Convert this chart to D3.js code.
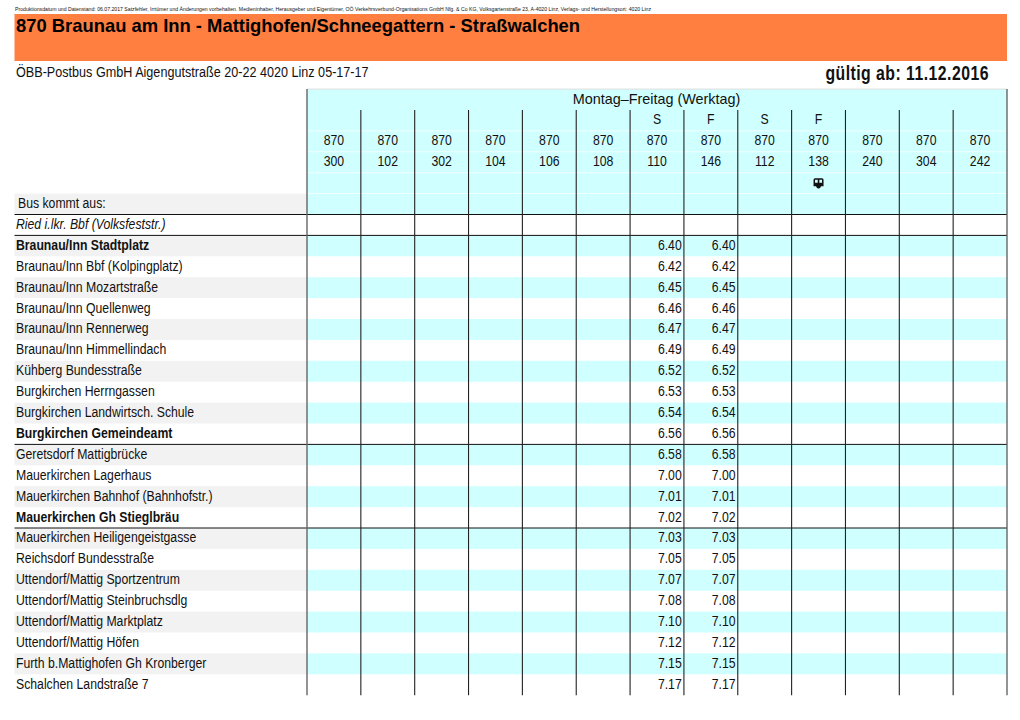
<!DOCTYPE html>
<html>
<head>
<meta charset="utf-8">
<script src="https://cdn.jsdelivr.net/npm/d3@7"></script>
<style>
  html, body { margin: 0; background: #fff; }
  svg { display: block; }
  text { fill: #111; font-family: "Liberation Sans", sans-serif; }
</style>
</head>
<body>
<div id="chart"></div>
<script>
const imprint = 'Produktionsdatum und Datenstand: 06.07.2017 Satzfehler, Irrtümer und Änderungen vorbehalten. Medieninhaber, Herausgeber und Eigentümer, OÖ Verkehrsverbund-Organisations GmbH Nfg. & Co KG, Volksgartenstraße 23, A-4020 Linz, Verlags- und Herstellungsort: 4020 Linz';
const title = '870 Braunau am Inn - Mattighofen/Schneegattern - Straßwalchen';
const operator = 'ÖBB-Postbus GmbH Aigengutstraße 20-22 4020 Linz 05-17-17';
const validFrom = 'gültig ab: 11.12.2016';
const dayType = 'Montag–Freitag (Werktag)';

const lines = ['870', '870', '870', '870', '870', '870', '870', '870', '870', '870', '870', '870', '870'];
const courses = ['300', '102', '302', '104', '106', '108', '110', '146', '112', '138', '240', '304', '242'];
const notes = ['', '', '', '', '', '', 'S', 'F', 'S', 'F', '', '', ''];
const busIconCourses = ['138'];
const timedCourses = ['110', '146'];

const stations = [
  'Ried i.lkr. Bbf (Volksfeststr.)', 'Braunau/Inn Stadtplatz', 'Braunau/Inn Bbf (Kolpingplatz)',
  'Braunau/Inn Mozartstraße', 'Braunau/Inn Quellenweg', 'Braunau/Inn Rennerweg',
  'Braunau/Inn Himmellindach', 'Kühberg Bundesstraße', 'Burgkirchen Herrngassen',
  'Burgkirchen Landwirtsch. Schule', 'Burgkirchen Gemeindeamt', 'Geretsdorf Mattigbrücke',
  'Mauerkirchen Lagerhaus', 'Mauerkirchen Bahnhof (Bahnhofstr.)', 'Mauerkirchen Gh Stieglbräu',
  'Mauerkirchen Heiligengeistgasse', 'Reichsdorf Bundesstraße', 'Uttendorf/Mattig Sportzentrum',
  'Uttendorf/Mattig Steinbruchsdlg', 'Uttendorf/Mattig Marktplatz', 'Uttendorf/Mattig Höfen',
  'Furth b.Mattighofen Gh Kronberger', 'Schalchen Landstraße 7'
];
const times = ['', '6.40', '6.42', '6.45', '6.46', '6.47', '6.49', '6.52', '6.53', '6.54', '6.56',
  '6.58', '7.00', '7.01', '7.02', '7.03', '7.05', '7.07', '7.08', '7.10', '7.12', '7.15', '7.17'];
const boldStations = ['Braunau/Inn Stadtplatz', 'Burgkirchen Gemeindeamt', 'Mauerkirchen Gh Stieglbräu'];
const ruledBelow = ['Ried i.lkr. Bbf (Volksfeststr.)', 'Burgkirchen Gemeindeamt', 'Mauerkirchen Gh Stieglbräu'];

const headerRows = ['day', 'note', 'line', 'course', 'icon', 'from'];
const rows = headerRows.concat(stations);

const width = 1020,
      height = 720,
      left = 14.5,
      tableLeft = 307,
      tableRight = 1007,
      fontSize = 15.5,
      narrow = 0.79;

const x = d3.scaleBand().domain(courses).range([tableLeft, tableRight]);
const y = d3.scaleBand().domain(rows).range([89.1, 695.2]);

const svg = d3.select('#chart').append('svg')
  .attr('width', width)
  .attr('height', height);

// no condensed face is installed, so text gets squeezed sideways
const squeeze = (tx, ty, sx) => `translate(${tx},${ty}) scale(${sx},1)`;

// top of the page
svg.append('text')
  .attr('x', 15).attr('y', 10.5)
  .attr('font-size', 6.2)
  .attr('textLength', 636)
  .attr('lengthAdjust', 'spacingAndGlyphs')
  .text(imprint);

svg.append('rect')
  .attr('x', left).attr('y', 14)
  .attr('width', tableRight - left).attr('height', 47)
  .attr('fill', '#ff7f40');

svg.append('text')
  .attr('x', 16).attr('y', 32)
  .attr('font-size', 18.4).attr('font-weight', 'bold')
  .style('fill', '#000')
  .text(title);

svg.append('text')
  .attr('transform', squeeze(16, 76.5, 0.814))
  .attr('font-size', fontSize)
  .text(operator);

svg.append('text')
  .attr('transform', squeeze(989, 79.5, 0.79))
  .attr('text-anchor', 'end')
  .attr('font-size', 20).attr('font-weight', 'bold')
  .attr('letter-spacing', 0.6)
  .text(validFrom);

// row backgrounds
const isStriped = r => {
  const i = stations.indexOf(r);
  return i >= 0 && i % 2 === 1;
};

svg.append('g').selectAll('rect')
  .data(rows.filter(r => r === 'from' || isStriped(r)))
  .enter()
  .append('rect')
  .attr('x', left)
  .attr('y', d => y(d))
  .attr('width', tableLeft - left)
  .attr('height', y.bandwidth())
  .attr('fill', '#f2f2f2');

svg.append('g').selectAll('rect')
  .data(rows.filter(r => headerRows.includes(r) || isStriped(r)))
  .enter()
  .append('rect')
  .attr('x', tableLeft)
  .attr('y', d => y(d))
  .attr('width', tableRight - tableLeft)
  .attr('height', y.bandwidth())
  .attr('fill', '#d0ffff');

// faint white rules inside the header
svg.append('g').selectAll('line')
  .data(['line', 'course', 'icon', 'from'])
  .enter()
  .append('line')
  .attr('x1', tableLeft).attr('x2', tableRight)
  .attr('y1', d => y(d)).attr('y2', d => y(d))
  .attr('stroke', '#fff').attr('stroke-width', 0.6);

// rules
svg.append('line')
  .attr('x1', tableLeft).attr('x2', tableRight)
  .attr('y1', y('day')).attr('y2', y('day'))
  .attr('stroke', '#ddd').attr('stroke-width', 1);

svg.append('g').selectAll('line')
  .data(['from'].concat(ruledBelow))
  .enter()
  .append('line')
  .attr('x1', left).attr('x2', tableRight)
  .attr('y1', d => y(d) + y.bandwidth()).attr('y2', d => y(d) + y.bandwidth())
  .attr('stroke', '#111').attr('stroke-width', 1);

svg.append('g').selectAll('line')
  .data(courses.slice(1))
  .enter()
  .append('line')
  .attr('x1', d => x(d)).attr('x2', d => x(d))
  .attr('y1', y('note')).attr('y2', 695.2)
  .attr('stroke', '#222').attr('stroke-width', 1.1);

svg.append('g').selectAll('line')
  .data([tableLeft, tableRight])
  .enter()
  .append('line')
  .attr('x1', d => d).attr('x2', d => d)
  .attr('y1', y('day')).attr('y2', 695.2)
  .attr('stroke', '#666').attr('stroke-width', 1.4);

// header texts
const baseline = r => y(r) + y.bandwidth() / 2 + 4;

svg.append('text')
  .attr('x', (tableLeft + tableRight) / 2 - 0.5).attr('y', 103.5)
  .attr('text-anchor', 'middle')
  .attr('font-size', 14.4)
  .text(dayType);

const headerText = (values, row) => {
  svg.append('g').selectAll('text')
    .data(values)
    .enter()
    .append('text')
    .attr('transform', (d, i) => squeeze(x(courses[i]) + x.bandwidth() / 2, baseline(row), narrow))
    .attr('text-anchor', 'middle')
    .attr('font-size', fontSize)
    .text(d => d);
};

headerText(notes, 'note');
headerText(lines, 'line');
headerText(courses, 'course');

// small bus symbol
const icon = svg.append('g').selectAll('g')
  .data(busIconCourses)
  .enter()
  .append('g')
  .attr('transform', d => `translate(${x(d) + x.bandwidth() / 2},${y('icon') + y.bandwidth() / 2})`);

icon.append('path')
  .attr('fill-rule', 'evenodd')
  .attr('fill', '#111')
  .attr('d', 'M-5,-3.5Q-5,-5 -3.5,-5H3.5Q5,-5 5,-3.5V3H-5Z M-3.5,-3.5V-0.5H-0.8V-3.5Z M0.8,-3.5V-0.5H3.5V-3.5Z');
icon.append('circle')
  .attr('cx', 0).attr('cy', 3.2).attr('r', 2.2)
  .attr('fill', '#111');

// station names
svg.append('text')
  .attr('transform', squeeze(18, baseline('from'), narrow))
  .attr('font-size', fontSize)
  .text('Bus kommt aus:');

svg.append('g').selectAll('text')
  .data(stations)
  .enter()
  .append('text')
  .attr('transform', d => squeeze(16, baseline(d), narrow))
  .attr('font-size', fontSize)
  .attr('font-weight', d => boldStations.includes(d) ? 'bold' : null)
  .attr('font-style', (d, i) => i === 0 ? 'italic' : null)
  .text(d => d);

// departure times
timedCourses.forEach(course => {
  svg.append('g').selectAll('text')
    .data(times)
    .enter()
    .append('text')
    .attr('transform', (d, i) => squeeze(x(course) + x.bandwidth() - 2.2, baseline(stations[i]), narrow))
    .attr('text-anchor', 'end')
    .attr('font-size', fontSize)
    .text(d => d);
});
</script>
</body>
</html>
